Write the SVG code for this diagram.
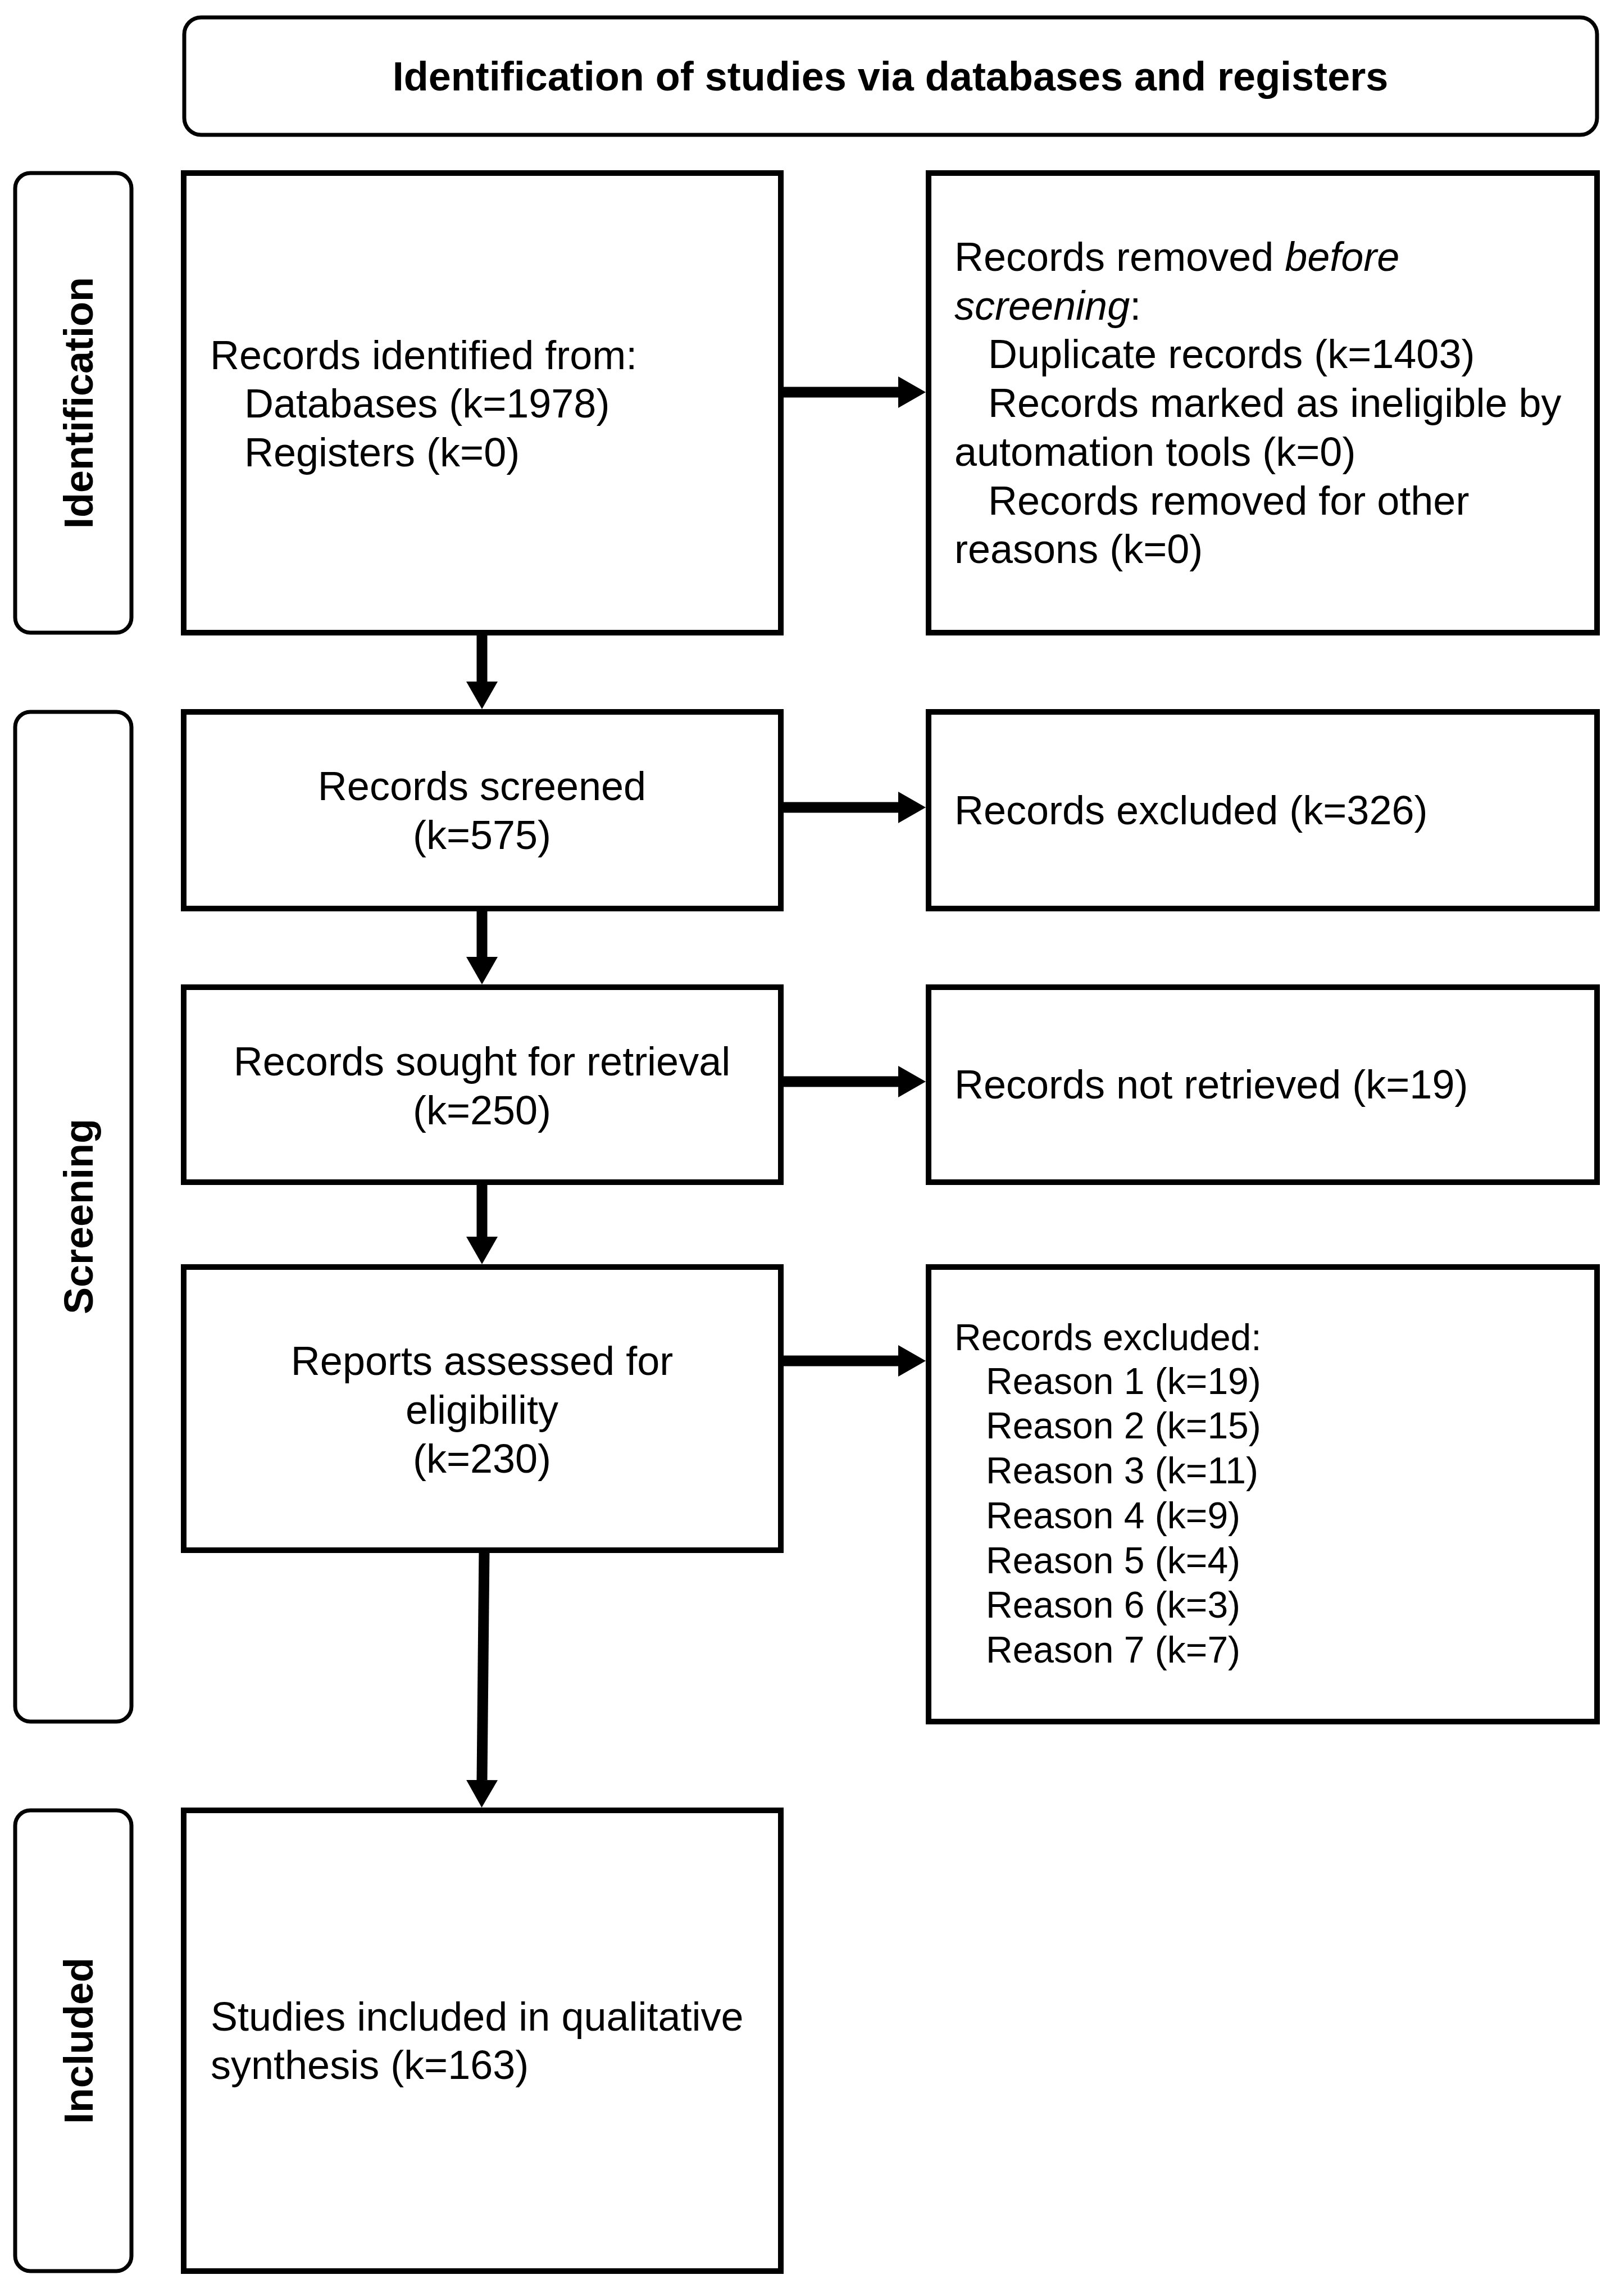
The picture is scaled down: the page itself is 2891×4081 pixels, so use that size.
<svg xmlns="http://www.w3.org/2000/svg" width="2891" height="4081" viewBox="0 0 2891 4081">
<style>
.bg{fill:#ffffff}
.box{fill:#ffffff;stroke:#000000;stroke-width:10}
.lab{fill:#ffffff;stroke:#000000;stroke-width:7}
.t{font-family:"Liberation Sans",Arial,sans-serif;font-size:72px;fill:#000000}
.s{font-family:"Liberation Sans",Arial,sans-serif;font-size:66px;fill:#000000}
.b{font-family:"Liberation Sans",Arial,sans-serif;font-size:72px;font-weight:bold;fill:#000000}
.c{text-anchor:middle}
.conn{fill:none;stroke:#000000;stroke-width:19;marker-end:url(#ah)}
</style>
<defs>
<marker id="ah" markerUnits="userSpaceOnUse" viewBox="0 -28 49 56" markerWidth="49" markerHeight="56" refX="0" refY="0" orient="auto">
<path d="M0,-28 L49,0 L0,28 Z" fill="#000000"/>
</marker>
</defs>
<rect class="bg" x="0" y="0" width="2891" height="4081"/>

<g id="header">
<rect class="lab" x="328" y="31" width="2515" height="209" rx="30" ry="30"/>
<text class="b c" x="1585" y="161">Identification of studies via databases and registers</text>
</g>

<g id="label-identification">
<rect class="lab" x="27" y="308" width="207" height="818" rx="27" ry="27"/>
<text class="b c" transform="translate(165,717) rotate(-90)">Identification</text>
</g>
<g id="label-screening">
<rect class="lab" x="27" y="1267" width="207" height="1797" rx="27" ry="27"/>
<text class="b c" transform="translate(165,2165) rotate(-90)">Screening</text>
</g>
<g id="label-included">
<rect class="lab" x="27" y="3222" width="207" height="820" rx="27" ry="27"/>
<text class="b c" transform="translate(165,3632) rotate(-90)">Included</text>
</g>

<g id="identified">
<rect class="box" x="327" y="308" width="1063" height="818"/>
<text class="t" x="374" y="657">Records identified from:</text>
<text class="t" x="435" y="743">Databases (k=1978)</text>
<text class="t" x="435" y="830">Registers (k=0)</text>
</g>

<g id="removed">
<rect class="box" x="1653" y="308" width="1190" height="818"/>
<text class="t" x="1699" y="482">Records removed <tspan font-style="italic">before</tspan></text>
<text class="t" x="1699" y="569"><tspan font-style="italic">screening</tspan>:</text>
<text class="t" x="1759" y="655">Duplicate records (k=1403)</text>
<text class="t" x="1759" y="742">Records marked as ineligible by</text>
<text class="t" x="1699" y="829">automation tools (k=0)</text>
<text class="t" x="1759" y="916">Records removed for other</text>
<text class="t" x="1699" y="1002">reasons (k=0)</text>
</g>

<g id="screened">
<rect class="box" x="327" y="1267" width="1063" height="350"/>
<text class="t c" x="858" y="1424">Records screened</text>
<text class="t c" x="858" y="1511">(k=575)</text>
</g>

<g id="excluded">
<rect class="box" x="1653" y="1267" width="1190" height="350"/>
<text class="t" x="1699" y="1467">Records excluded (k=326)</text>
</g>

<g id="sought">
<rect class="box" x="327" y="1757" width="1063" height="347"/>
<text class="t c" x="858" y="1914">Records sought for retrieval</text>
<text class="t c" x="858" y="2001">(k=250)</text>
</g>

<g id="not-retrieved">
<rect class="box" x="1653" y="1757" width="1190" height="347"/>
<text class="t" x="1699" y="1955">Records not retrieved (k=19)</text>
</g>

<g id="assessed">
<rect class="box" x="327" y="2255" width="1063" height="504"/>
<text class="t c" x="858" y="2447">Reports assessed for</text>
<text class="t c" x="858" y="2534">eligibility</text>
<text class="t c" x="858" y="2621">(k=230)</text>
</g>

<g id="reasons">
<rect class="box" x="1653" y="2255" width="1190" height="809"/>
<text class="s" x="1699" y="2403">Records excluded:</text>
<text class="s" x="1755" y="2481">Reason 1 (k=19)</text>
<text class="s" x="1755" y="2560">Reason 2 (k=15)</text>
<text class="s" x="1755" y="2640">Reason 3 (k=11)</text>
<text class="s" x="1755" y="2720">Reason 4 (k=9)</text>
<text class="s" x="1755" y="2800">Reason 5 (k=4)</text>
<text class="s" x="1755" y="2879">Reason 6 (k=3)</text>
<text class="s" x="1755" y="2959">Reason 7 (k=7)</text>
</g>

<g id="included">
<rect class="box" x="327" y="3222" width="1063" height="820"/>
<text class="t" x="375" y="3614">Studies included in qualitative</text>
<text class="t" x="375" y="3700">synthesis (k=163)</text>
</g>

<g id="connectors">
<path class="conn" d="M1390,698 L1599,698"/>
<path class="conn" d="M858,1126 L858,1213"/>
<path class="conn" d="M1390,1437 L1599,1437"/>
<path class="conn" d="M858,1617 L858,1703"/>
<path class="conn" d="M1390,1925 L1599,1925"/>
<path class="conn" d="M858,2104 L858,2201"/>
<path class="conn" d="M1390,2422 L1599,2422"/>
<path class="conn" d="M862,2759 L858,3168"/>
</g>
</svg>
